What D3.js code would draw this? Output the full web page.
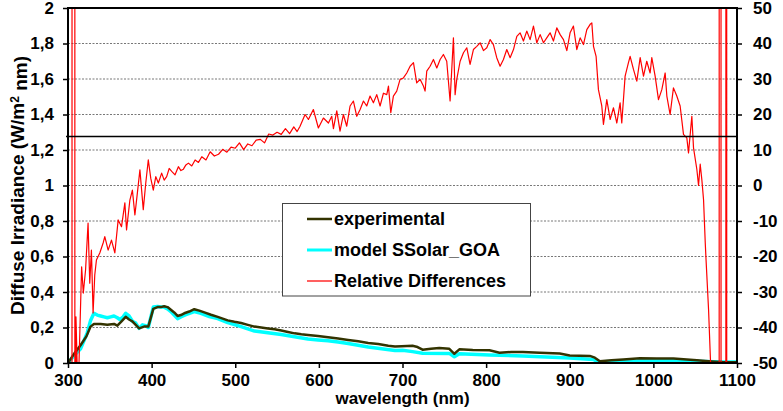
<!DOCTYPE html>
<html><head><meta charset="utf-8">
<script src="https://cdn.jsdelivr.net/npm/d3@7"></script>
<style>
body{margin:0;background:#fff}
svg{display:block}
text{font-family:"Liberation Sans",Arial,sans-serif;font-weight:bold;fill:#000}
</style>
</head><body><svg id="c" width="783" height="411"></svg>
<script>
const xTicks=[300,400,500,600,700,800,900,1000,1100];
const yLeftTicks=[0,0.2,0.4,0.6,0.8,1,1.2,1.4,1.6,1.8,2];
const yRightTicks=[-50,-40,-30,-20,-10,0,10,20,30,40,50];
const seriesNames=["experimental","model SSolar_GOA","Relative Differences"];
const refLine=[13.8];

const expData=[[300,0],[307,0.05],[315,0.10],[322,0.15],[327,0.205],[331,0.22],[339,0.22],[347,0.215],[355,0.22],[359,0.21],[364,0.235],[369,0.26],[373,0.245],[377,0.235],[381,0.215],[385,0.195],[391,0.205],[396,0.205],[402,0.305],[407,0.315],[411,0.315],[415,0.32],[419,0.315],[423,0.30],[427,0.285],[431,0.265],[435,0.27],[439,0.28],[445,0.29],[451,0.303],[457,0.295],[463,0.285],[471,0.272],[479,0.26],[485,0.25],[491,0.24],[499,0.232],[507,0.225],[515,0.215],[523,0.205],[531,0.2],[539,0.195],[547,0.19],[555,0.183],[563,0.175],[571,0.167],[579,0.162],[587,0.158],[599,0.152],[611,0.145],[623,0.138],[635,0.13],[647,0.122],[659,0.113],[671,0.107],[683,0.097],[691,0.093],[699,0.095],[712,0.097],[718,0.09],[724,0.075],[734,0.08],[744,0.085],[756,0.08],[762,0.052],[768,0.077],[784,0.073],[804,0.072],[816,0.058],[830,0.062],[844,0.062],[864,0.058],[888,0.053],[900,0.042],[924,0.04],[930,0.03],[936,0.01],[950,0.015],[964,0.02],[984,0.027],[1004,0.026],[1024,0.025],[1040,0.02],[1052,0.015],[1070,0.008],[1084,0.004],[1100,0.004]];

const modelData=[[300,0],[307,0.04],[315,0.08],[323,0.17],[327,0.24],[331,0.28],[335,0.27],[339,0.265],[343,0.26],[347,0.255],[351,0.26],[355,0.265],[359,0.255],[362,0.245],[366,0.26],[369,0.28],[373,0.265],[377,0.235],[381,0.225],[385,0.195],[389,0.215],[393,0.21],[396,0.20],[402,0.315],[407,0.318],[411,0.315],[415,0.315],[419,0.305],[423,0.29],[427,0.27],[431,0.25],[435,0.26],[441,0.272],[451,0.29],[459,0.28],[469,0.262],[479,0.25],[491,0.228],[507,0.205],[515,0.192],[523,0.18],[539,0.17],[555,0.16],[571,0.148],[587,0.135],[599,0.13],[611,0.125],[623,0.118],[635,0.11],[647,0.1],[659,0.09],[675,0.08],[691,0.07],[700,0.072],[712,0.064],[724,0.055],[756,0.054],[762,0.035],[768,0.052],[804,0.045],[844,0.04],[900,0.028],[928,0.02],[934,0.006],[964,0.011],[1024,0.012],[1060,0.008],[1084,0.005],[1100,0.005]];

const relData=[[304.6,-1000],[305,1000],[308,1000],[308.4,-1000],
[309.5,-37],[312,-60],[316.3,-22.9],[318.3,-30.3],[321,-23.8],[324,-10.6],[326,-27.5],[328,-18.2],[330,-35.9],[332,-25.2],[334,-21],[338,-19],[342,-16.2],[344,-14.4],[348,-18.2],[352,-15.4],[356,-19],[360,-9.7],[364,-11.6],[368,-4.9],[370,-12.5],[374,-4.1],[377,-1.3],[380,-8.3],[383,-2],[386,4.4],[390,-6.8],[393,0.7],[396,7.2],[399,2],[402,-1.3],[405,2.5],[408,0.7],[412,3.5],[415,1.5],[418,2.5],[421,4.8],[424,4],[428,3],[432,5.3],[435,4.2],[438,4.6],[441,5.8],[444,6.3],[448,5.5],[452,7.2],[456,6.5],[460,8.1],[465,7.2],[470,9.5],[475,8.3],[480,8.8],[485,10.2],[490,9.4],[495,10.8],[500,10.5],[505,12],[510,10.1],[515,11.7],[520,11.2],[525,12.8],[530,13],[535,12],[540,14.5],[545,14.2],[550,15],[555,14.4],[560,16],[565,14.6],[570,16.5],[574,15.2],
[577.5,16.7],[583.5,20],[587.5,18.6],[593.4,21.4],[599.4,16.2],[605.4,19],[611.4,17.6],[615.4,19.5],[617.4,16],[621.4,21],[625.3,15.3],[629.3,20],[633.3,16.7],[637.3,22.4],[641.3,23.8],[645.3,19.5],[649.3,21.4],[653.3,23.8],[657.2,22.4],[661.2,25.2],[665.2,23.3],[669.2,25.6],[673.2,22.4],[677.2,26],[681.2,25.6],[683.2,28],[686,20.5],[689.1,25.2],[693.1,26.6],[697.1,29.9],[701.1,30.3],[705.1,31.7],[709.1,33.6],[713.1,34.6],[717,28.9],[721,29.9],[725,28],[727,26.6],[729,32.2],[733,33.6],[737,35.5],[741,33.1],[745,35.5],[748.9,36.9],[752.9,35],[756.9,23.8],[760.9,41.6],[762.9,25.6],[764.9,29.9],[768.9,35],[772.9,37.4],[776.9,38.8],[780.8,34.1],[784.8,38.3],[788.8,39.2],[792.8,40.2],[796.8,38],[800.8,38.8],[804.8,41.1],[808.7,39.7],[812.7,36],[816.7,33.6],[820.7,35.5],[824.7,38.3],[828.7,36],[832.7,38.3],[836.7,42],[840.6,43],[844.6,40.7],[848.6,43.5],[852.6,41.1],[856.6,44.9],[860.6,40.2],[864.6,42.5],[868.6,40.2],[872.5,41.6],[876.5,43],[880.5,40.7],[884.5,44.4],[888.5,42.5],[892.5,41.1],[896.5,38],[900.4,43],[904.4,44.9],[908.4,38.3],[912.4,41.6],[916.4,39.7],[920.4,43.9],[924.4,45.4],[926.4,45.8],[928.4,39.2],[931.5,36.4],[934.3,27],[938.3,22.4],[940.3,17.2],[944.3,24.2],[948.3,18.6],[952.3,21.9],[956.3,17.6],[960.2,23.3],[962.2,17.6],[966.2,30.8],[970.2,34.6],[972.2,36.4],[976.2,32.7],[980.2,29.4],[984.2,36],[988.2,30.8],[992.1,35],[996.1,31.7],[998.1,36],[1002.1,30.8],[1006.1,24.2],[1010.1,27],[1014.1,31.7],[1016.1,25.2],[1020,20],[1024,27.5],[1028,25.2],[1032,22.4],[1036,14.4],[1040,13.4],[1042,9.2],[1046,19.5],[1048,10.6],[1052,4.5],[1054,0],[1056,6],[1058,1.5],[1060,-4],[1062,-16],[1063,-21],[1066,-35],[1070,-60],
[1078.6,-1000],[1078.8,1000],[1080.8,1000],[1081,-1000],[1086.6,-1000],[1086.8,1000],[1087.6,1000],[1087.8,-1000],[1100,-1000]];

const svg=d3.select("#c");
const L=68,R=737,T=8,B=363;
const x=d3.scaleLinear().domain([300,1100]).range([L,R]);
const yL=d3.scaleLinear().domain([0,2]).range([B,T]);
const yR=d3.scaleLinear().domain([-50,50]).range([B,T]);

svg.append("defs").append("clipPath").attr("id","clip").append("rect")
  .attr("x",L).attr("y",T).attr("width",R-L).attr("height",B-T);

// grid
svg.append("g").selectAll("line").data(yLeftTicks.filter(d=>d>0&&d<2)).join("line")
  .attr("x1",L).attr("x2",R).attr("y1",d=>yL(d)).attr("y2",d=>yL(d))
  .attr("stroke","#777").attr("stroke-width",1).attr("stroke-dasharray","2,1.5");

const fmt=d=>String(d).replace(".",",");
const fs="17px";

const gx=svg.append("g").attr("transform",`translate(0,${B})`)
  .call(d3.axisBottom(x).tickValues(xTicks).tickSize(5).tickPadding(6).tickFormat(d=>d));
const gl=svg.append("g").attr("transform",`translate(${L},0)`)
  .call(d3.axisLeft(yL).tickValues(yLeftTicks).tickSize(5).tickPadding(9).tickFormat(fmt));
const gr=svg.append("g").attr("transform",`translate(${R},0)`)
  .call(d3.axisRight(yR).tickValues(yRightTicks).tickSize(5).tickPadding(11).tickFormat(d=>d));
[gx,gl,gr].forEach(g=>{
  g.select(".domain").remove();
  g.selectAll(".tick line").attr("stroke","#000").attr("stroke-width",1.5);
  g.selectAll(".tick text").style("font-size",fs).style("font-family",'"Liberation Sans",Arial,sans-serif').style("font-weight","bold").attr("fill","#000");
});

// series
const lineL=d3.line().x(d=>x(d[0])).y(d=>yL(d[1]));
const lineR=d3.line().x(d=>x(d[0])).y(d=>yR(d[1]));
const plot=svg.append("g").attr("clip-path","url(#clip)");
plot.append("path").datum(modelData).attr("d",lineL).attr("fill","none").attr("stroke","#00ffff").attr("stroke-width",3.5).attr("stroke-linejoin","round");
plot.append("path").datum(expData).attr("d",lineL).attr("fill","none").attr("stroke","#333300").attr("stroke-width",2.5).attr("stroke-linejoin","round");
plot.append("path").datum(relData).attr("d",lineR).attr("fill","none").attr("stroke","#ff0000").attr("stroke-width",1.2).attr("stroke-linejoin","round");

// reference black line
svg.selectAll(".ref").data(refLine).join("line").attr("class","ref")
  .attr("x1",L-2).attr("x2",R).attr("y1",d=>yR(d)).attr("y2",d=>yR(d))
  .attr("stroke","#000").attr("stroke-width",1.5);

// frame
svg.append("rect").attr("x",L).attr("y",T).attr("width",R-L).attr("height",B-T)
  .attr("fill","none").attr("stroke","#000").attr("stroke-width",2);

// legend
const lg=svg.append("g");
lg.append("rect").attr("x",282.5).attr("y",203.5).attr("width",248).attr("height",92.5)
  .attr("fill","#fff").attr("stroke","#444").attr("stroke-width",1);
const lcol=["#333300","#00ffff","#ff6060"];
const lw=[2.5,3,2];
seriesNames.forEach((n,i)=>{
  const yy=219+i*31;
  lg.append("line").attr("x1",307).attr("x2",332).attr("y1",yy).attr("y2",yy).attr("stroke",lcol[i]).attr("stroke-width",lw[i]);
  lg.append("text").attr("x",334).attr("y",yy).attr("dy","0.36em").style("font-size","18px").text(n);
});

// titles
svg.append("text").attr("x",(L+R)/2).attr("y",404).attr("text-anchor","middle").style("font-size","17px").text("wavelength (nm)");
const yt=svg.append("text").attr("transform",`translate(24,${(T+B)/2}) rotate(-90)`).attr("text-anchor","middle").style("font-size","19px");
yt.append("tspan").text("Diffuse Irradiance (W/m");
yt.append("tspan").attr("dy","-0.45em").style("font-size","12px").text("2");
yt.append("tspan").attr("dy","0.45em").text(" nm)");
</script>
</body></html>
